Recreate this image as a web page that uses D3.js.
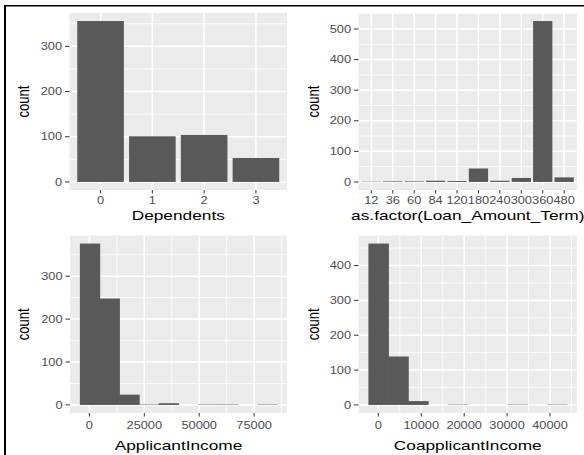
<!DOCTYPE html>
<html>
<head>
<meta charset="utf-8">
<script src="https://cdn.jsdelivr.net/npm/d3@7"></script>
<style>
  body { margin: 0; background: #fff; }
  svg { display: block; }
</style>
</head>
<body>
<div id="chart"></div>
<script>
// data
var depCats = ["0", "1", "2", "3"];
var depCounts = [356, 101, 104, 53];
var depTicksY = [0, 100, 200, 300];

var termCats = ["12", "36", "60", "84", "120", "180", "240", "300", "360", "480"];
var termCounts = [1, 2, 2, 4, 3, 44, 4, 13, 526, 15];
var termTicksY = [0, 100, 200, 300, 400, 500];

var appBreaks = [-4342, 4642, 13625, 22608, 31592, 40575, 49558, 58542, 67525, 76508, 85492];
var appCounts = [376, 248, 24, 1, 4, 0, 1, 1, 0, 1];
var appTicksX = [0, 25000, 50000, 75000];
var appTicksY = [0, 100, 200, 300];

var coBreaks = [-2315, 2315, 6944, 11574, 16204, 20833, 25463, 30093, 34722, 39352, 43982];
var coCounts = [463, 139, 11, 0, 1, 0, 0, 1, 0, 1];
var coTicksX = [0, 10000, 20000, 30000, 40000];
var coTicksY = [0, 100, 200, 300, 400];

var W = 584, H = 455;
var SX = 1.28; // picture is stretched sideways
var FONT = "'Liberation Sans', Arial, sans-serif";

var svg = d3.select("#chart").append("svg")
  .attr("width", W).attr("height", H);

function txt(g, x, y, s, size, anchor, fill, rot){
  var t = "translate(" + x + "," + y + ") scale(" + SX + ",1)";
  if (rot) t += " rotate(-90)";
  g.append("text")
    .attr("transform", t)
    .attr("text-anchor", anchor)
    .attr("font-family", FONT)
    .attr("font-size", size)
    .attr("fill", fill)
    .text(s);
}

function minorOf(ticks, dom){
  var step = ticks[1] - ticks[0];
  var ext = [ticks[0] - step].concat(ticks, [ticks[ticks.length-1] + step]);
  var m = [];
  for (var i = 0; i < ext.length - 1; i++){
    var v = (ext[i] + ext[i+1]) / 2;
    if (v > dom[0] && v < dom[1]) m.push(v);
  }
  return m;
}

// p: left, top, w, h, ...
function panel(p){
  var g = svg.append("g");
  var maxY = d3.max(p.counts);
  var y = d3.scaleLinear()
    .domain([-0.05 * maxY, 1.05 * maxY])
    .range([p.top + p.h, p.top]);

  g.append("rect")
    .attr("x", p.left).attr("y", p.top)
    .attr("width", p.w).attr("height", p.h)
    .attr("fill", "#ebebeb");

  // y grid
  minorOf(p.ticksY, y.domain()).forEach(function(v){
    g.append("line").attr("x1", p.left).attr("x2", p.left + p.w)
      .attr("y1", y(v)).attr("y2", y(v))
      .attr("stroke", "#fff").attr("stroke-width", 0.8);
  });
  p.ticksY.forEach(function(v){
    g.append("line").attr("x1", p.left).attr("x2", p.left + p.w)
      .attr("y1", y(v)).attr("y2", y(v))
      .attr("stroke", "#fff").attr("stroke-width", 1.5);
  });

  var xPos, bars;
  if (p.cats){
    var x = d3.scaleBand().domain(p.cats)
      .range([p.left, p.left + p.w])
      .paddingInner(0.1).paddingOuter(0.15);
    xPos = function(c){ return x(c) + x.bandwidth() / 2; };
    p.cats.forEach(function(c){
      g.append("line").attr("x1", xPos(c)).attr("x2", xPos(c))
        .attr("y1", p.top).attr("y2", p.top + p.h)
        .attr("stroke", "#fff").attr("stroke-width", 1.5);
    });
    g.selectAll("rect.bar").data(p.counts).enter().append("rect")
      .attr("class", "bar")
      .attr("x", function(d, i){ return x(p.cats[i]); })
      .attr("width", x.bandwidth())
      .attr("y", function(d){ return y(d); })
      .attr("height", function(d){ return y(0) - y(d); })
      .attr("fill", "#595959");
    bars = p.cats;
  } else {
    var lo = p.breaks[0], hi = p.breaks[p.breaks.length-1];
    var pad = (hi - lo) * 0.05;
    var x = d3.scaleLinear().domain([lo - pad, hi + pad])
      .range([p.left, p.left + p.w]);
    xPos = x;
    minorOf(p.ticksX, x.domain()).forEach(function(v){
      g.append("line").attr("x1", x(v)).attr("x2", x(v))
        .attr("y1", p.top).attr("y2", p.top + p.h)
        .attr("stroke", "#fff").attr("stroke-width", 0.8);
    });
    p.ticksX.forEach(function(v){
      g.append("line").attr("x1", x(v)).attr("x2", x(v))
        .attr("y1", p.top).attr("y2", p.top + p.h)
        .attr("stroke", "#fff").attr("stroke-width", 1.5);
    });
    // slight overlap so neighbouring bins do not show a seam
    g.selectAll("rect.bar").data(p.counts).enter().append("rect")
      .attr("class", "bar")
      .attr("x", function(d, i){ return x(p.breaks[i]); })
      .attr("width", function(d, i){ return x(p.breaks[i+1]) - x(p.breaks[i]) + 0.6; })
      .attr("y", function(d){ return y(d); })
      .attr("height", function(d){ return y(0) - y(d); })
      .attr("fill", "#595959");
    bars = p.ticksX;
  }

  // axis ticks + labels
  p.ticksY.forEach(function(v){
    g.append("line").attr("x1", p.left - 4.5).attr("x2", p.left)
      .attr("y1", y(v)).attr("y2", y(v))
      .attr("stroke", "#333").attr("stroke-width", 1);
    txt(g, p.left - 7.5, y(v) + 3.6, v, 10, "end", "#4d4d4d");
  });
  bars.forEach(function(v){
    g.append("line").attr("x1", xPos(v)).attr("x2", xPos(v))
      .attr("y1", p.top + p.h).attr("y2", p.top + p.h + 3.5)
      .attr("stroke", "#333").attr("stroke-width", 1);
    txt(g, xPos(v), p.top + p.h + p.tickDy, v, 10, "middle", "#4d4d4d");
  });

  txt(g, p.left + p.w / 2 + (p.titleShift || 0), p.top + p.h + p.titleDy, p.xTitle, 13.5, "middle", "#000");
  txt(g, p.yTitleX, p.top + p.h / 2, "count", 13, "middle", "#000", true);
}

panel({left: 69.5, top: 13, w: 217.5, h: 177, cats: depCats, counts: depCounts,
  ticksY: depTicksY, xTitle: "Dependents", yTitleX: 29, tickDy: 14, titleDy: 30});
panel({left: 358.5, top: 13, w: 218.5, h: 177, cats: termCats, counts: termCounts,
  ticksY: termTicksY, xTitle: "as.factor(Loan_Amount_Term)", yTitleX: 319, tickDy: 14, titleDy: 30, titleShift: 0});
panel({left: 70, top: 235.5, w: 217, h: 177.5, breaks: appBreaks, counts: appCounts,
  ticksX: appTicksX, ticksY: appTicksY, xTitle: "ApplicantIncome", yTitleX: 29, tickDy: 15.5, titleDy: 37});
panel({left: 358.5, top: 235.5, w: 218.5, h: 177.5, breaks: coBreaks, counts: coCounts,
  ticksX: coTicksX, ticksY: coTicksY, xTitle: "CoapplicantIncome", yTitleX: 319, tickDy: 15.5, titleDy: 37});

// black frame on the left and top
svg.append("rect").attr("x", 4).attr("y", 5).attr("width", 2).attr("height", H - 5).attr("fill", "#000");
svg.append("rect").attr("x", 4).attr("y", 5).attr("width", W - 4).attr("height", 1.5).attr("fill", "#000");
</script>
</body>
</html>
